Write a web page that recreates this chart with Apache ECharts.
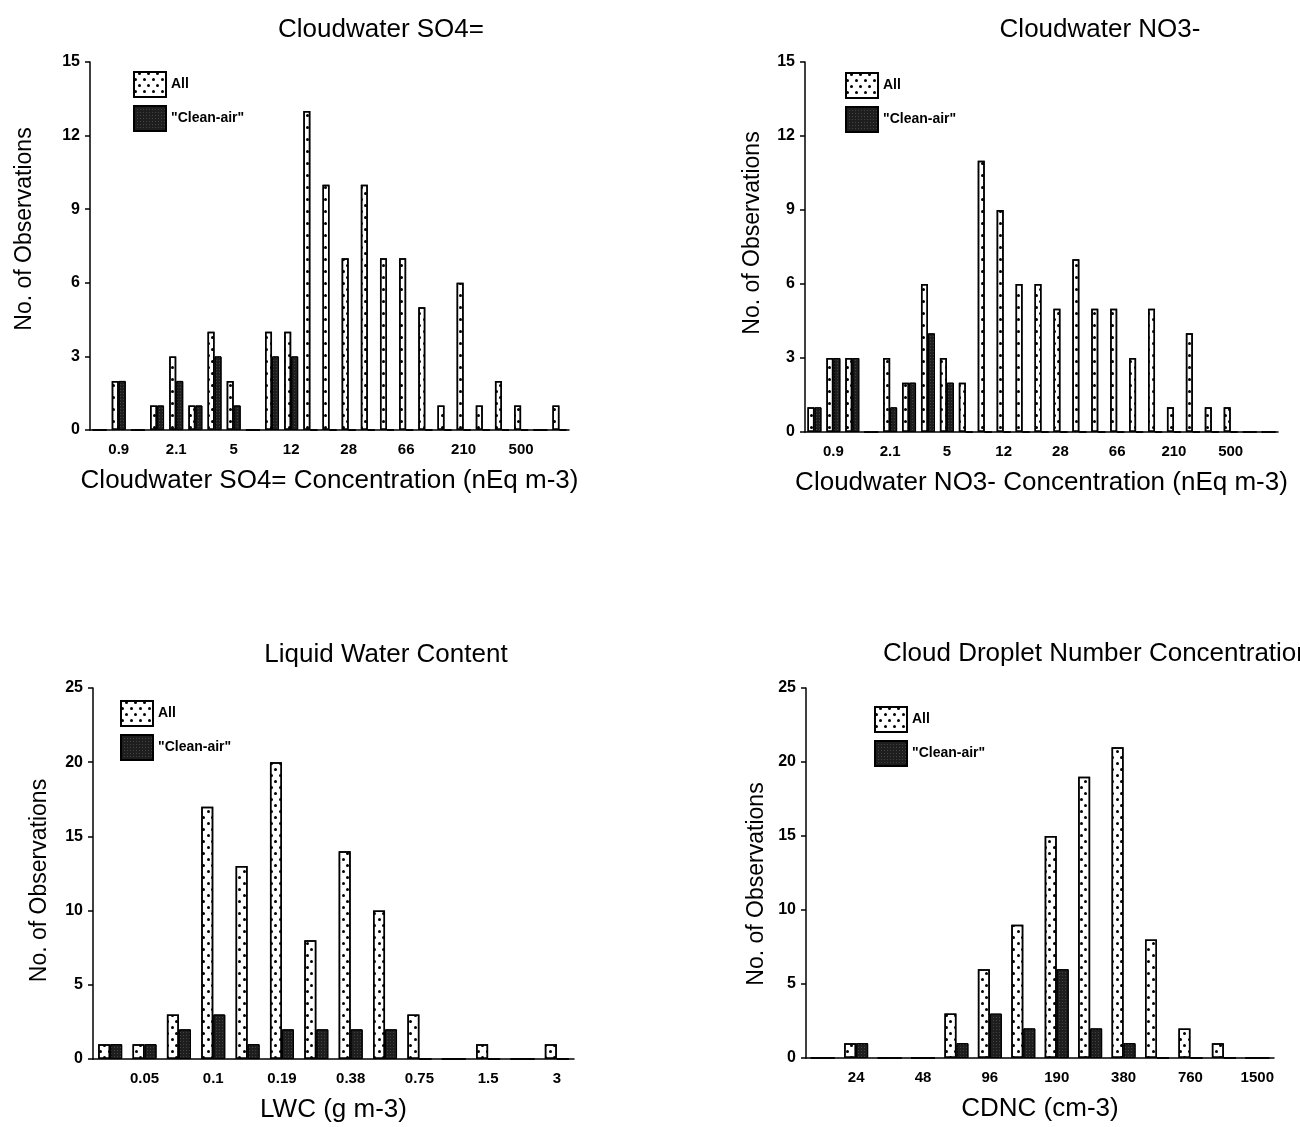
<!DOCTYPE html>
<html>
<head>
<meta charset="utf-8">
<script src="https://cdn.jsdelivr.net/npm/echarts@6/dist/echarts.min.js"></script>
<style>
  html, body { margin: 0; background: #fff; }
  #main { width: 1300px; height: 1127px; }
</style>
</head>
<body>
<div id="main"></div>
<script>
// histogram bins, only every few bins carry a label
var so4Ticks  = ['', '0.9', '', '', '2.1', '', '', '5', '', '', '12', '', '', '28', '', '', '66', '', '', '210', '', '', '500', '', ''];
var so4All    = [0, 2, 0, 1, 3, 1, 4, 2, 0, 4, 4, 13, 10, 7, 10, 7, 7, 5, 1, 6, 1, 2, 1, 0, 1];
var so4Clean  = [0, 2, 0, 1, 2, 1, 3, 1, 0, 3, 3, 0, 0, 0, 0, 0, 0, 0, 0, 0, 0, 0, 0, 0, 0];

var no3Ticks  = ['', '0.9', '', '', '2.1', '', '', '5', '', '', '12', '', '', '28', '', '', '66', '', '', '210', '', '', '500', '', ''];
var no3All    = [1, 3, 3, 0, 3, 2, 6, 3, 2, 11, 9, 6, 6, 5, 7, 5, 5, 3, 5, 1, 4, 1, 1, 0, 0];
var no3Clean  = [1, 3, 3, 0, 1, 2, 4, 2, 0, 0, 0, 0, 0, 0, 0, 0, 0, 0, 0, 0, 0, 0, 0, 0, 0];

var lwcTicks  = ['', '0.05', '', '0.1', '', '0.19', '', '0.38', '', '0.75', '', '1.5', '', '3'];
var lwcAll    = [1, 1, 3, 17, 13, 20, 8, 14, 10, 3, 0, 1, 0, 1];
var lwcClean  = [1, 1, 2, 3, 1, 2, 2, 2, 2, 0, 0, 0, 0, 0];

var cdncTicks = ['', '24', '', '48', '', '96', '', '190', '', '380', '', '760', '', '1500'];
var cdncAll   = [0, 1, 0, 0, 3, 6, 9, 15, 19, 21, 8, 2, 1, 0];
var cdncClean = [0, 1, 0, 0, 1, 3, 2, 6, 2, 1, 0, 0, 0, 0];

var font = "'Liberation Sans', Arial, Helvetica, sans-serif";

var allDecal = {
    symbol: 'circle', symbolSize: 1, color: '#000',
    dashArrayX: [[2.6, 5.4], [0, 4, 2.6, 1.4]], dashArrayY: [2.6, 2.9]
};
var cleanDecal = {
    symbol: 'circle', symbolSize: 1, color: 'rgba(255,255,255,0.22)',
    dashArrayX: [[1, 2]], dashArrayY: [1, 2]
};

// yPad nudges the rotated axis name along the axis
var panels = [
    { grid: { left: 90, top: 62, width: 479, height: 368 }, ticks: so4Ticks, all: so4All, clean: so4Clean,
      max: 15, step: 3, bw: 7, xname: 'Cloudwater SO4= Concentration (nEq m-3)', yGap: 54, yPad: [0, 0, 0, 34] },
    { grid: { left: 805, top: 62, width: 473, height: 370 }, ticks: no3Ticks, all: no3All, clean: no3Clean,
      max: 15, step: 3, bw: 7, xname: 'Cloudwater NO3- Concentration (nEq m-3)', yGap: 41, yPad: [0, 0, 0, 28] },
    { grid: { left: 93, top: 688, width: 481, height: 371 }, ticks: lwcTicks, all: lwcAll, clean: lwcClean,
      max: 25, step: 5, bw: 12, xname: 'LWC (g m-3)', yGap: 42, yPad: [0, 14, 0, 0] },
    { grid: { left: 806, top: 688, width: 468, height: 370 }, ticks: cdncTicks, all: cdncAll, clean: cdncClean,
      max: 25, step: 5, bw: 12, xname: 'CDNC (cm-3)', yGap: 38, yPad: [0, 22, 0, 0] }
];

var grids = [], xAxes = [], yAxes = [], series = [];
panels.forEach(function (p, i) {
    grids.push(p.grid);
    xAxes.push({
        type: 'category', gridIndex: i, data: p.ticks,
        name: p.xname, nameLocation: 'middle', nameGap: 38,
        nameTextStyle: { fontSize: 26, color: '#000', fontFamily: font },
        axisLine: { lineStyle: { color: '#000', width: 1.5 } },
        axisTick: { alignWithLabel: true, interval: 0, length: 5, lineStyle: { color: '#000', width: 1.5 } },
        axisLabel: { interval: 0, margin: 12, color: '#000', fontSize: 15, fontWeight: 'bold', fontFamily: font }
    });
    yAxes.push({
        type: 'value', gridIndex: i, min: 0, max: p.max, interval: p.step,
        name: 'No. of Observations', nameLocation: 'middle', nameGap: p.yGap,
        nameTextStyle: { fontSize: 23, color: '#000', fontFamily: font, padding: p.yPad },
        axisLine: { show: true, lineStyle: { color: '#000', width: 1.5 } },
        axisTick: { show: true, length: 5, lineStyle: { color: '#000', width: 1.5 } },
        splitLine: { show: false },
        axisLabel: { margin: 10, color: '#000', fontSize: 16, fontWeight: 'bold', fontFamily: font }
    });
    series.push({
        name: 'All', type: 'bar', xAxisIndex: i, yAxisIndex: i, data: p.all,
        barWidth: p.bw, barGap: '0%',
        itemStyle: { color: '#fff', borderColor: '#000', borderWidth: 1.5, decal: allDecal }
    });
    series.push({
        name: '"Clean-air"', type: 'bar', xAxisIndex: i, yAxisIndex: i, data: p.clean,
        barWidth: p.bw, barGap: '0%',
        itemStyle: { color: '#1e1e1e', borderColor: '#000', borderWidth: 1, decal: cleanDecal }
    });
});

function legendAt(left, top) {
    return {
        data: ['All', '"Clean-air"'], orient: 'vertical', left: left, top: top,
        itemWidth: 32, itemHeight: 25, itemGap: 7, icon: 'rect', selectedMode: false,
        itemStyle: { borderColor: '#000', borderWidth: 2 },
        textStyle: { fontSize: 14, fontWeight: 'bold', color: '#000', fontFamily: font }
    };
}

function titleAt(text, left, top, align) {
    return {
        text: text, left: left, top: top, textAlign: align,
        textStyle: { fontSize: 26, fontWeight: 'normal', color: '#000', fontFamily: font }
    };
}

var myChart = echarts.init(document.getElementById('main'));
myChart.setOption({
    animation: false,
    backgroundColor: '#fff',
    title: [
        titleAt('Cloudwater SO4=', 376, 12, 'center'),
        titleAt('Cloudwater NO3-', 1095, 12, 'center'),
        titleAt('Liquid Water Content', 381, 637, 'center'),
        titleAt('Cloud Droplet Number Concentration', 878, 636, 'left')
    ],
    legend: [legendAt(128, 66), legendAt(840, 67), legendAt(115, 695), legendAt(869, 701)],
    grid: grids,
    xAxis: xAxes,
    yAxis: yAxes,
    series: series
});
</script>
</body>
</html>
